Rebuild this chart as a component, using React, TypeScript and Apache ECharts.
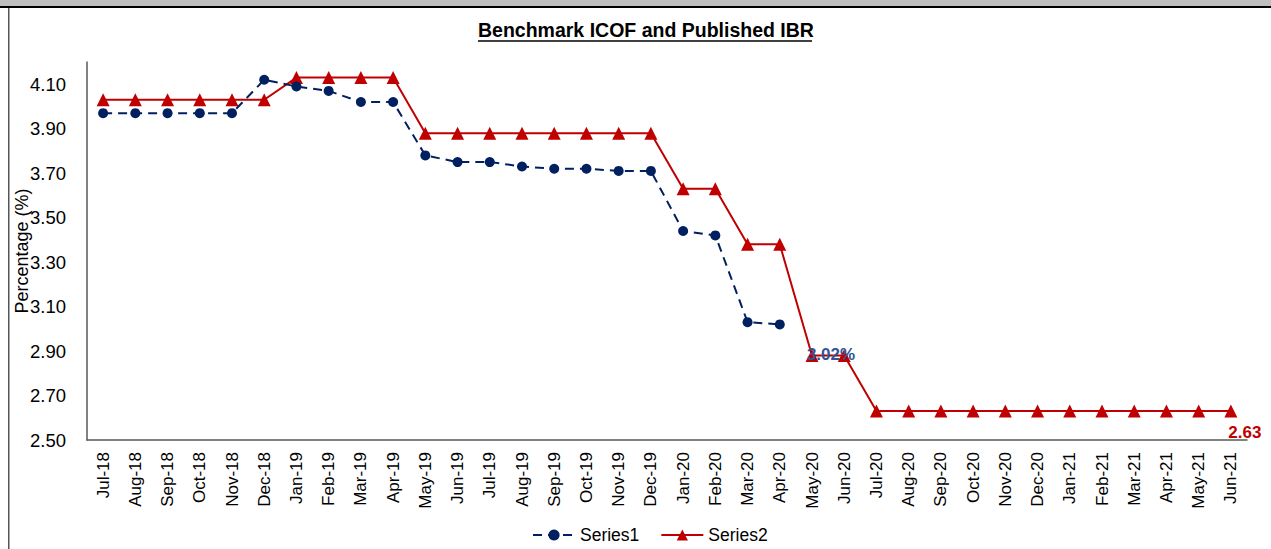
import React, { useEffect, useRef } from "react";
import * as echarts from "echarts";

const categories = [
  "Jul-18","Aug-18","Sep-18","Oct-18","Nov-18","Dec-18",
  "Jan-19","Feb-19","Mar-19","Apr-19","May-19","Jun-19","Jul-19","Aug-19","Sep-19","Oct-19","Nov-19","Dec-19",
  "Jan-20","Feb-20","Mar-20","Apr-20","May-20","Jun-20","Jul-20","Aug-20","Sep-20","Oct-20","Nov-20","Dec-20",
  "Jan-21","Feb-21","Mar-21","Apr-21","May-21","Jun-21",
];

const series1: (number | null)[] = [
  3.97, 3.97, 3.97, 3.97, 3.97, 4.12,
  4.09, 4.07, 4.02, 4.02, 3.78, 3.75, 3.75, 3.73, 3.72, 3.72, 3.71, 3.71,
  3.44, 3.42, 3.03, 3.02, null, null, null, null, null, null, null, null,
  null, null, null, null, null, null,
];

const series2: number[] = [
  4.03, 4.03, 4.03, 4.03, 4.03, 4.03,
  4.13, 4.13, 4.13, 4.13, 3.88, 3.88, 3.88, 3.88, 3.88, 3.88, 3.88, 3.88,
  3.63, 3.63, 3.38, 3.38, 2.88, 2.88, 2.63, 2.63, 2.63, 2.63, 2.63, 2.63,
  2.63, 2.63, 2.63, 2.63, 2.63, 2.63,
];

const FONT = "Liberation Sans, Arial, sans-serif";

export default function App() {
  const ref = useRef<HTMLDivElement>(null);
  useEffect(() => {
    if (!ref.current) return;
    const chart = echarts.init(ref.current, undefined, { renderer: "svg" });
    const s2Data = series2.map((v, i) => {
      if (categories[i] === "May-20") {
        return {
          value: v,
          label: {
            show: true,
            position: "inside",
            offset: [19, -1],
            formatter: "3.02%",
            color: "#2F5597",
            fontWeight: "bold",
            fontSize: 17,
            fontFamily: FONT,
          },
        };
      }
      if (i === series2.length - 1) {
        return {
          value: v,
          label: {
            show: true,
            position: "inside",
            offset: [14, 21],
            formatter: "{c}",
            color: "#C00000",
            fontWeight: "bold",
            fontSize: 17,
            fontFamily: FONT,
          },
        };
      }
      return v;
    });
    chart.setOption({
      animation: false,
      backgroundColor: "#ffffff",
      textStyle: { fontFamily: FONT },
      title: {
        text: "Benchmark ICOF and Published IBR",
        left: 473,
        top: 15,
        textStyle: { fontSize: 19.5, fontWeight: "bold", color: "#000", fontFamily: FONT },
      },
      graphic: [
        { type: "rect", shape: { x: 0, y: 0, width: 1271, height: 6 }, style: { fill: "#BFBFBF" }, silent: true },
        { type: "rect", shape: { x: 0, y: 6, width: 1271, height: 2 }, style: { fill: "#000" }, silent: true },
        { type: "rect", shape: { x: 8, y: 8, width: 1.5, height: 541 }, style: { fill: "#555" }, silent: true },
        { type: "line", shape: { x1: 478, y1: 41, x2: 812, y2: 41 }, style: { stroke: "#000", lineWidth: 1.5 }, silent: true },
      ],
      legend: {
        bottom: 0,
        left: 527,
        itemWidth: 42,
        itemHeight: 14,
        itemGap: 21,
        textStyle: { fontSize: 17.5, color: "#000", fontFamily: FONT },
        data: ["Series1", "Series2"],
      },
      grid: { left: 87, right: 24, top: 62, bottom: 109, outerBoundsMode: "none", containLabel: false },
      xAxis: {
        type: "category",
        data: categories,
        boundaryGap: true,
        axisLine: { lineStyle: { color: "#595959", width: 1.5 } },
        axisTick: { show: false },
        axisLabel: { rotate: 90, interval: 0, fontSize: 17, color: "#000", margin: 12, fontFamily: FONT },
      },
      yAxis: {
        type: "value",
        min: 2.5,
        max: 4.2,
        interval: 0.2,
        name: "Percentage (%)",
        nameLocation: "middle",
        nameGap: 56,
        nameMoveOverlap: false,
        nameTextStyle: { fontSize: 18, color: "#000", fontFamily: FONT },
        axisLine: { show: true, lineStyle: { color: "#595959", width: 1.5 } },
        axisTick: { show: false },
        splitLine: { show: false },
        axisLabel: {
          fontSize: 18.5,
          color: "#000",
          margin: 21,
          showMaxLabel: false,
          fontFamily: FONT,
          formatter: (v: number) => v.toFixed(2),
        },
      },
      series: [
        {
          name: "Series1",
          type: "line",
          data: series1,
          symbol: "circle",
          symbolSize: 10,
          connectNulls: false,
          itemStyle: { color: "#002060" },
          lineStyle: { color: "#002060", width: 2, type: [9, 6] },
          z: 3,
        },
        {
          name: "Series2",
          type: "line",
          data: s2Data,
          symbol: "triangle",
          symbolSize: 13,
          itemStyle: { color: "#C00000" },
          lineStyle: { color: "#C00000", width: 2, type: "solid" },
          z: 2,
        },
      ],
    });
    return () => chart.dispose();
  }, []);
  return (
    <div
      ref={ref}
      style={{ position: "absolute", left: 0, top: 0, width: 1271, height: 549 }}
    />
  );
}
